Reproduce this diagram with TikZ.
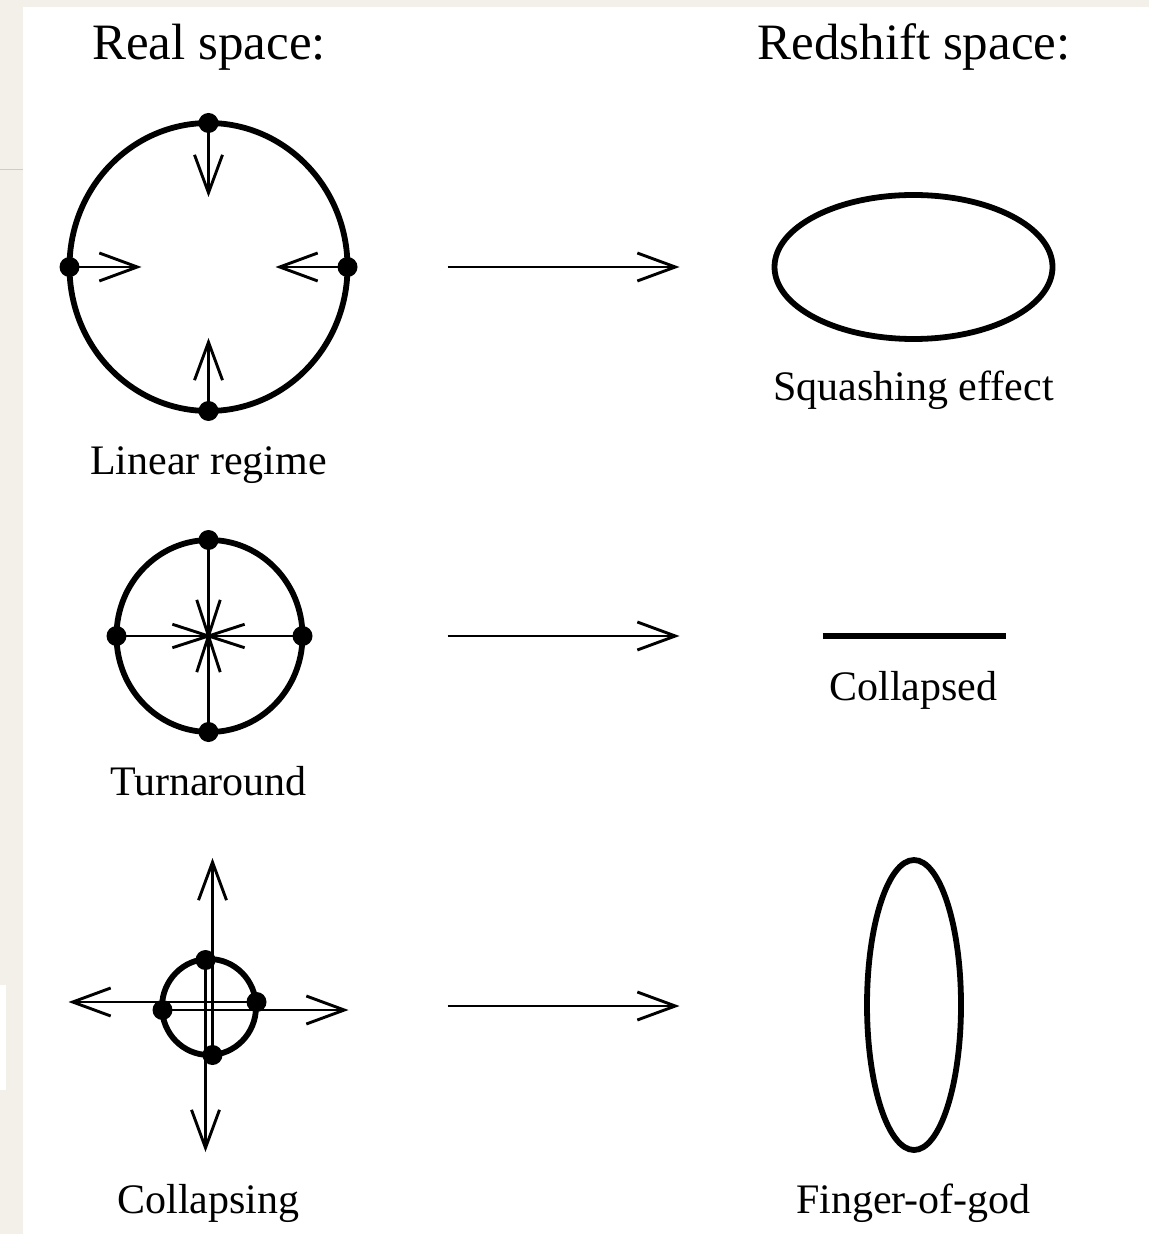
\documentclass[tikz,border=0pt]{standalone}
\usepackage{fontspec}
\setmainfont{Liberation Serif}
\usetikzlibrary{arrows.meta}
\definecolor{paper}{HTML}{F3F0EA}
\begin{document}
\begin{tikzpicture}[x=0.5pt,y=-0.5pt,
  shell/.style={line width=2.9pt},
  ray/.style={line width=1.45pt},
  barb/.style={ray,-{Straight Barb[length=19pt,width=14pt,line width=1.45pt]}},
  dot/.style={circle,fill=black,inner sep=0pt,minimum size=10pt},
  title/.style={anchor=base,font=\fontsize{25.5}{29}\selectfont},
  label/.style={anchor=base,font=\fontsize{21}{24}\selectfont}]
% page and panel
\fill[paper] (0,0) rectangle (1148,1234);
\fill[white] (22,7) rectangle (1148,1234);
\fill[white] (0,985) rectangle (6,1090);
\draw[gray!40,line width=0.5pt] (0,170) -- (22,170);
% titles
\node[title] (treal) at (208.5,60) {Real space:};
\node[title] (tred) at (913.5,60) {Redshift space:};
% ---- row 1: linear regime
\draw[shell] (208,267) ellipse [x radius=139,y radius=144];
\node[dot] (l-top) at (208,123) {};
\node[dot] (l-left) at (69,267) {};
\node[dot] (l-right) at (347,267) {};
\node[dot] (l-bot) at (208,411) {};
\coordinate (l-top-tip) at (208,197);
\coordinate (l-left-tip) at (141,267);
\coordinate (l-right-tip) at (275,267);
\coordinate (l-bot-tip) at (208,338);
\draw[barb] (l-top.center) -- (l-top-tip);
\draw[barb] (l-left.center) -- (l-left-tip);
\draw[barb] (l-right.center) -- (l-right-tip);
\draw[barb] (l-bot.center) -- (l-bot-tip);
\node[label] (llin) at (208,474) {Linear regime};
\coordinate (a1s) at (447,267);
\coordinate (a1e) at (679,267);
\draw[barb] (a1s) -- (a1e);
\draw[shell] (913,267) ellipse [x radius=139,y radius=72];
\node[label] (lsq) at (913,401) {Squashing effect};
% ---- row 2: turnaround
\draw[shell] (209,636) ellipse [x radius=93,y radius=96];
\node[dot] (t-top) at (208,540) {};
\node[dot] (t-left) at (116,636) {};
\node[dot] (t-right) at (302,636) {};
\node[dot] (t-bot) at (208,732) {};
\draw[ray] (t-top.center) -- (t-bot.center);
\draw[ray] (t-left.center) -- (t-right.center);
\coordinate (t-c) at (208,636);
\foreach \a in {18,72,108,162}
  \draw[ray] (t-c) +(\a:38) -- +(\a+180:38);
\node[label] (ltur) at (208,795) {Turnaround};
\coordinate (a2s) at (447,636);
\coordinate (a2e) at (679,636);
\draw[barb] (a2s) -- (a2e);
\coordinate (c-l) at (822,636);
\coordinate (c-r) at (1005,636);
\draw[line width=3pt] (c-l) -- (c-r);
\node[label] (lcol) at (913,700) {Collapsed};
% ---- row 3: collapsing
\draw[shell] (208.5,1007) ellipse [x radius=47,y radius=48];
\node[dot] (k-top) at (205,960) {};
\node[dot] (k-left) at (162,1010) {};
\node[dot] (k-right) at (256,1002) {};
\node[dot] (k-bot) at (212,1055) {};
\coordinate (k-up-tip) at (212,858);
\coordinate (k-down-tip) at (205,1152);
\coordinate (k-left-tip) at (68,1002);
\coordinate (k-right-tip) at (348,1010);
\draw[barb] (k-bot.center) -- (k-up-tip);
\draw[barb] (k-top.center) -- (k-down-tip);
\draw[barb] (k-right.center) -- (k-left-tip);
\draw[barb] (k-left.center) -- (k-right-tip);
\node[label] (lcing) at (208,1213) {Collapsing};
\coordinate (a3s) at (447,1006);
\coordinate (a3e) at (679,1006);
\draw[barb] (a3s) -- (a3e);
\draw[shell] (913.5,1005) ellipse [x radius=47,y radius=145];
\node[label] (lfog) at (913,1213) {Finger-of-god};
\end{tikzpicture}
\end{document}
